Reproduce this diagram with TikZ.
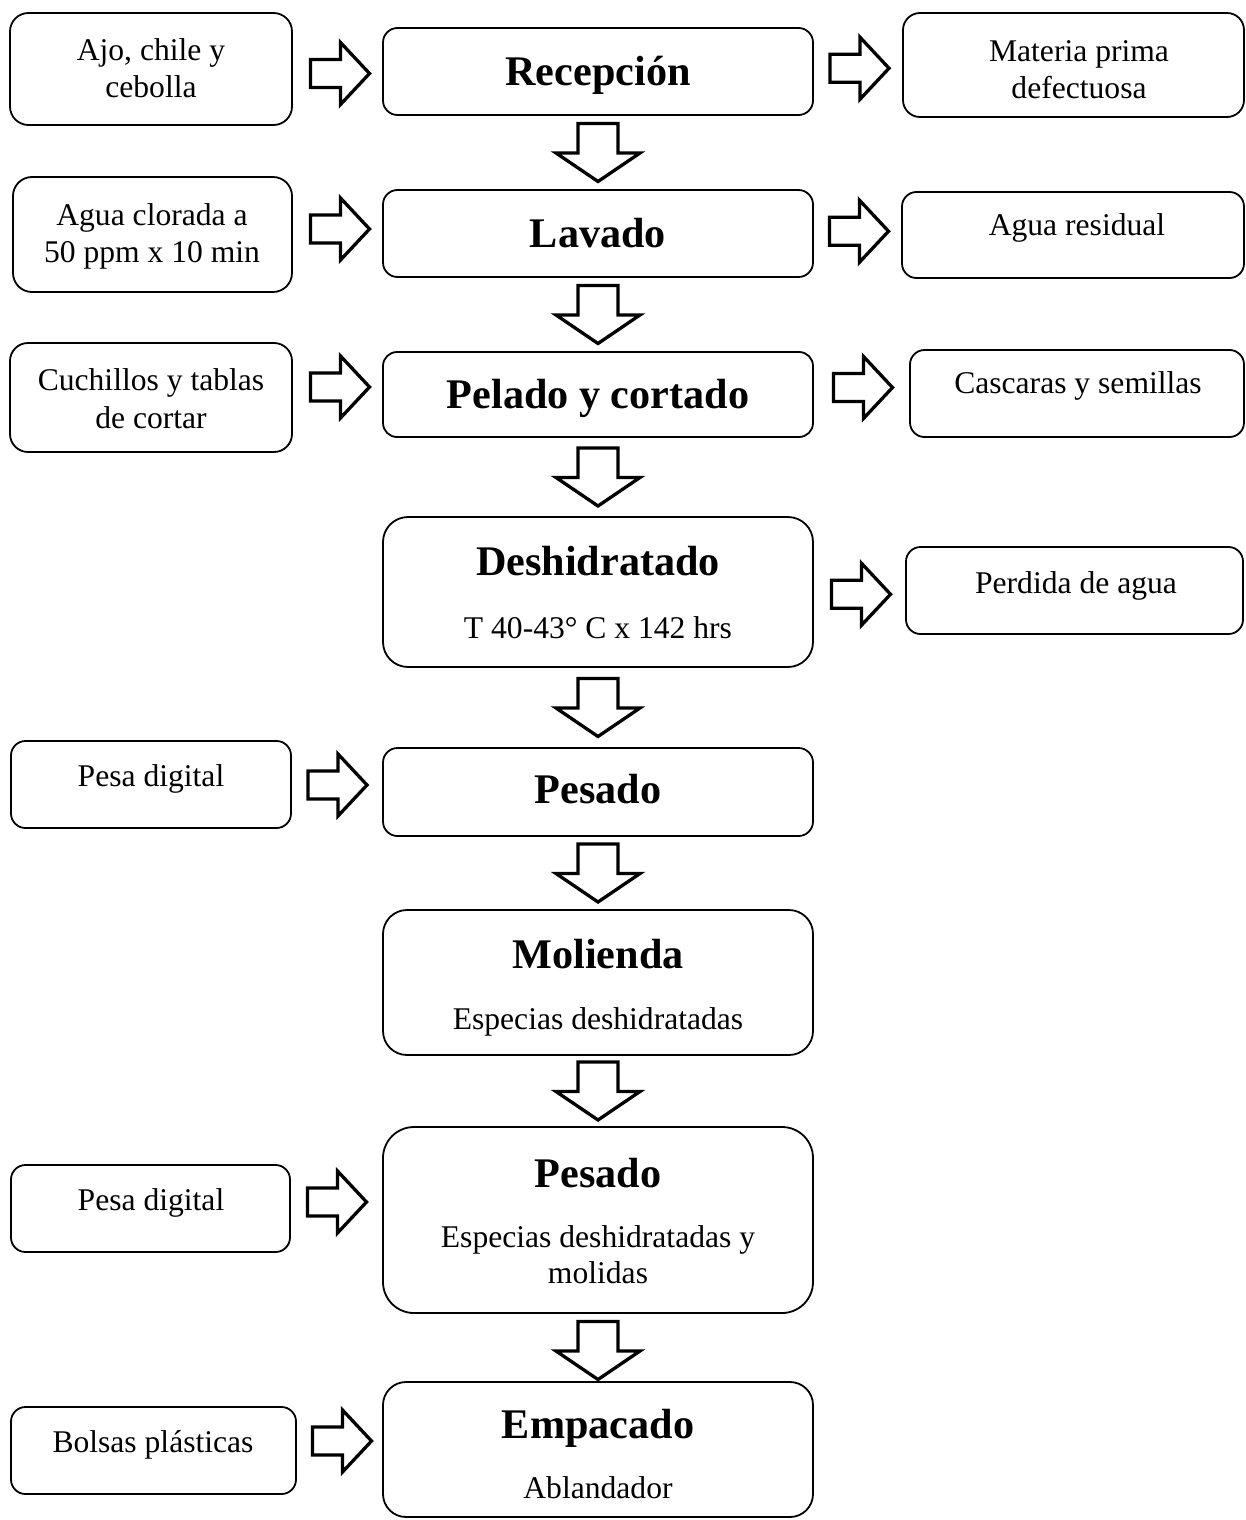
\documentclass[tikz,border=0pt]{standalone}
\usepackage{fontspec}
\setmainfont{Liberation Serif}
\usetikzlibrary{calc}
\newcommand\rtxt{\fontsize{31.6pt}{37pt}\selectfont}
\newcommand\btxt{\fontsize{42.2pt}{48pt}\selectfont\bfseries}
\begin{document}
\begin{tikzpicture}[x=1pt,y=-1pt,
  flowbox/.style={draw, line width=1.8pt, rounded corners=#1, inner sep=0pt, fill=white},
  sidetxt/.style={anchor=base, inner sep=0pt, font=\rtxt},
  titletxt/.style={anchor=base, inner sep=0pt, font=\btxt},
  blockarrow/.style={draw, line width=3.3pt, fill=white, line join=miter},
  rarr/.pic={\draw[blockarrow] (-29,-14) -- (1,-14) -- (1,-31) -- (30,0) -- (1,31) -- (1,14) -- (-29,14) -- cycle;},
  darr/.pic={\draw[blockarrow] (-20,-29) -- (20,-29) -- (20,0.5) -- (42,0.5) -- (0,29) -- (-42,0.5) -- (-20,0.5) -- cycle;}
]
\fill[white] (0,0) rectangle (1245,1520);
\useasboundingbox (0,0) rectangle (1245,1520);

% ---------- central column ----------
\node[flowbox=14.5pt, minimum width=430pt, minimum height=87pt] (c1) at (598,71.5) {};
\node[flowbox=14.5pt, minimum width=430pt, minimum height=87pt] (c2) at (598,233.5) {};
\node[flowbox=14pt, minimum width=430pt, minimum height=85pt] (c3) at (598,394.5) {};
\node[flowbox=25pt, minimum width=430pt, minimum height=150pt] (c4) at (598,592) {};
\node[flowbox=14.5pt, minimum width=430pt, minimum height=88pt] (c5) at (598,792) {};
\node[flowbox=24pt, minimum width=430pt, minimum height=145pt] (c6) at (598,982.5) {};
\node[flowbox=31pt, minimum width=430pt, minimum height=186pt] (c7) at (598,1220) {};
\node[flowbox=23pt, minimum width=430pt, minimum height=135pt] (c8) at (598,1449.5) {};

\node[titletxt] (c1t) at (598,85) {Recepción};
\node[titletxt] (c2t) at (598,247) {Lavado};
\node[titletxt] (c3t) at (598,408) {Pelado y cortado};
\node[titletxt] (c4t) at (598,575) {Deshidratado};
\node[sidetxt] (c4s) at (598,638) {T 40-43° C x 142 hrs};
\node[titletxt] (c5t) at (598,803) {Pesado};
\node[titletxt] (c6t) at (598,968) {Molienda};
\node[sidetxt] (c6s) at (598,1029) {Especias deshidratadas};
\node[titletxt] (c7t) at (598,1187) {Pesado};
\node[sidetxt] (c7s) at (598,1247) {Especias deshidratadas y};
\node[sidetxt] (c7u) at (598,1283) {molidas};
\node[titletxt] (c8t) at (598,1438) {Empacado};
\node[sidetxt] (c8s) at (598,1498) {Ablandador};

% ---------- left column ----------
\node[flowbox=18.5pt, minimum width=282pt, minimum height=112pt] (l1) at (151,69) {};
\node[flowbox=19pt, minimum width=279pt, minimum height=115pt] (l2) at (152.5,234.5) {};
\node[flowbox=18pt, minimum width=282pt, minimum height=109pt] (l3) at (151,397.5) {};
\node[flowbox=14.5pt, minimum width=280pt, minimum height=87pt] (l5) at (151,784.5) {};
\node[flowbox=14.5pt, minimum width=279pt, minimum height=87pt] (l7) at (150.5,1208.5) {};
\node[flowbox=14.5pt, minimum width=285pt, minimum height=87pt] (l8) at (153.5,1450.5) {};

\node[sidetxt] (l1a) at (151,60) {Ajo, chile y};
\node[sidetxt] (l1b) at (151,97) {cebolla};
\node[sidetxt] (l2a) at (152,225) {Agua clorada a};
\node[sidetxt] (l2b) at (152,262) {50 ppm x 10 min};
\node[sidetxt] (l3a) at (151,390) {Cuchillos y tablas};
\node[sidetxt] (l3b) at (151,428) {de cortar};
\node[sidetxt] (l5a) at (151,786) {Pesa digital};
\node[sidetxt] (l7a) at (151,1210) {Pesa digital};
\node[sidetxt] (l8a) at (153,1452) {Bolsas plásticas};

% ---------- right column ----------
\node[flowbox=17pt, minimum width=341pt, minimum height=104pt] (r1) at (1073.5,65) {};
\node[flowbox=14.5pt, minimum width=342pt, minimum height=86pt] (r2) at (1073,235) {};
\node[flowbox=14.5pt, minimum width=334pt, minimum height=87pt] (r3) at (1077,393.5) {};
\node[flowbox=14.5pt, minimum width=337pt, minimum height=87pt] (r4) at (1074.5,590.5) {};

\node[sidetxt] (r1a) at (1079,62) {Materia prima};
\node[sidetxt] (r1b) at (1079,98) {defectuosa};
\node[sidetxt] (r2a) at (1077,235) {Agua residual};
\node[sidetxt] (r3a) at (1078,393) {Cascaras y semillas};
\node[sidetxt] (r4a) at (1076,593) {Perdida de agua};

% ---------- down arrows ----------
\pic at ($(c1.south)!0.5!(c2.north)$) {darr};
\pic at ($(c2.south)!0.5!(c3.north)$) {darr};
\pic at ($(c3.south)!0.5!(c4.north)$) {darr};
\pic at ($(c4.south)!0.5!(c5.north)$) {darr};
\pic at ($(c5.south)!0.5!(c6.north)$) {darr};
\pic at ($(c6.south)!0.5!(c7.north)$) {darr};
\pic at ($(c7.south)!0.5!(c8.north) + (0,3)$) {darr};

% ---------- inputs (left) ----------
\pic at ($(l1.east)!0.5!(c1.west) + (2,3.25)$) {rarr};
\pic at ($(l2.east)!0.5!(c2.west) + (2,-5)$) {rarr};
\pic at ($(l3.east)!0.5!(c3.west) + (2,-9)$) {rarr};
\pic at ($(l5.east)!0.5!(c5.west) + (0,-3.25)$) {rarr};
\pic at ($(l7.east)!0.5!(c7.west) + (0,-12.25)$) {rarr};
\pic at ($(l8.east)!0.5!(c8.west) + (2,-9)$) {rarr};

% ---------- outputs (right) ----------
\pic at ($(c1.east)!0.5!(r1.west) + (1,0)$) {rarr};
\pic at ($(c2.east)!0.5!(r2.west) + (1,-3)$) {rarr};
\pic at ($(c3.east)!0.5!(r3.west) + (1,-6.5)$) {rarr};
\pic at ($(c4.east)!0.5!(r4.west) + (1,3)$) {rarr};
\end{tikzpicture}
\end{document}
